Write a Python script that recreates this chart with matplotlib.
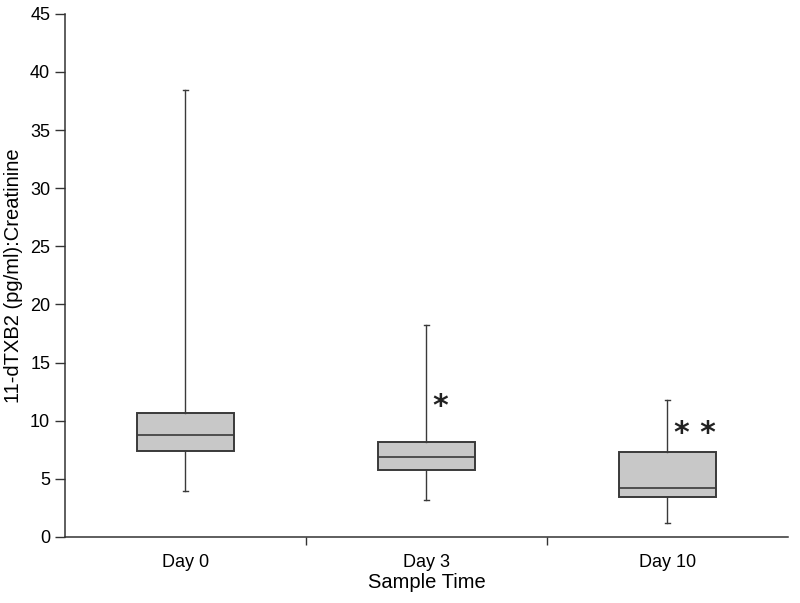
import matplotlib
matplotlib.use("Agg")
import matplotlib.pyplot as plt

plt.rcParams['font.family'] = ['Liberation Sans', 'DejaVu Sans']

categories = ["Day 0", "Day 3", "Day 10"]
whisker_low = [3.96, 3.2, 1.2]
q1 = [7.4, 5.77, 3.45]
median = [8.78, 6.88, 4.2]
q3 = [10.67, 8.18, 7.3]
whisker_high = [38.47, 18.2, 11.8]
annotations = ["", "*", "* *"]
annot_x = [0, 1.056, 2.112]
annot_y = [0, 10.45, 8.2]

fig = plt.figure(figsize=(8, 6.03), dpi=100)
ax = fig.add_axes([0.081, 0.1095, 0.904, 0.8675])

stats = []
for i, c in enumerate(categories):
    stats.append(dict(label=c, whislo=whisker_low[i], q1=q1[i], med=median[i],
                      q3=q3[i], whishi=whisker_high[i], fliers=[]))

ax.bxp(stats, positions=range(len(categories)), widths=0.40, patch_artist=True,
       showfliers=False,
       boxprops=dict(facecolor='#c8c8c8', edgecolor='#3a3a3a', linewidth=1.4),
       medianprops=dict(color='#3a3a3a', linewidth=1.2),
       whiskerprops=dict(color='#3a3a3a', linewidth=1.0),
       capprops=dict(color='#3a3a3a', linewidth=1.0),
       capwidths=0.022)

for i, a in enumerate(annotations):
    if a:
        ax.text(annot_x[i], annot_y[i], a, fontsize=21.5, fontweight='bold',
                family='DejaVu Sans', ha='center', va='baseline', color='#222222')

ax.set_xlim(-0.5, 2.5)
ax.set_ylim(0, 45)
ax.set_yticks(range(0, 50, 5))
ax.set_xticks(range(len(categories)))
ax.set_xticklabels(categories, fontsize=13)
ax.set_xticks([0.5, 1.5], minor=True)
ax.tick_params(axis='x', which='major', length=0, pad=12)
ax.tick_params(axis='x', which='minor', length=6, direction='out', width=1, color='#333333')
ax.tick_params(axis='y', length=7, direction='out', width=1, color='#333333', labelsize=13)
for s in ['top', 'right']:
    ax.spines[s].set_visible(False)
for s in ['left', 'bottom']:
    ax.spines[s].set_color('#333333')
    ax.spines[s].set_linewidth(1.1)
ax.set_xlabel("Sample Time", fontsize=14.5, labelpad=2)
ax.set_ylabel("11-dTXB2 (pg/ml):Creatinine", fontsize=14.5, labelpad=5)

fig.savefig("out.png", dpi=100)
